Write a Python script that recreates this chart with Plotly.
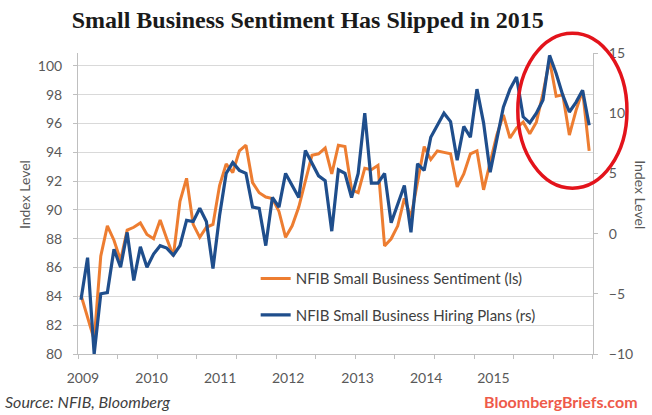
import plotly.graph_objects as go

# Monthly data, Jan 2009 - Jun 2015
sentiment = [84.1, 82.6, 81.0, 86.8, 88.9, 87.9, 86.5, 88.6, 88.8, 89.1, 88.3, 88.0,
             89.3, 88.0, 86.8, 90.6, 92.2, 89.0, 88.1, 88.8, 89.0, 91.7, 93.2, 92.6,
             94.1, 94.5, 91.9, 91.2, 90.9, 90.8, 89.9, 88.1, 88.9, 90.2, 92.0, 93.8,
             93.9, 94.3, 92.5, 94.5, 94.4, 91.4, 91.2, 92.9, 92.8, 93.1, 87.5, 88.0,
             88.9, 90.8, 89.5, 92.1, 94.4, 93.5, 94.1, 94.0, 93.9, 91.6, 92.5, 93.9,
             94.1, 91.4, 93.4, 95.2, 96.6, 95.0, 95.7, 96.1, 95.3, 96.1, 98.1, 100.4,
             97.9, 98.0, 95.2, 96.9, 98.3, 94.1]

hiring = [-5.5, -2.0, -10.0, -5.0, -4.9, -1.3, -2.8, 0.1, -3.9, -1.1, -2.8, -1.7,
          -1.0, -1.2, -1.8, -1.0, 1.1, 1.0, 2.1, 1.0, -2.9, 1.5, 5.0, 5.9,
          5.25, 5.0, 2.2, 2.1, -1.0, 3.0, 2.2, 5.0, 4.0, 3.0, 6.9, 5.8,
          4.8, 4.4, 0.2, 5.3, 5.0, 3.0, 5.0, 10.0, 4.2, 4.2, 5.0, 0.9,
          2.5, 4.0, 0.1, 5.8, 5.25, 8.0, 9.0, 10.0, 9.3, 6.1, 8.9, 8.0,
          12.0, 9.2, 5.1, 7.8, 10.5, 12.0, 13.0, 9.7, 9.2, 10.0, 11.1, 14.8,
          13.3, 11.5, 10.1, 10.9, 11.9, 9.0]

month_index = list(range(len(sentiment)))

year_labels = ["2009", "2010", "2011", "2012", "2013", "2014", "2015"]
year_label_pos = [0.3, 10.7, 21.1, 31.4, 41.9, 52.3, 62.5]

left_ticks = list(range(80, 101, 2))
right_ticks = [-10, -5, 0, 5, 10, 15]

FONT = "Lato, 'Liberation Sans', sans-serif"
TICK_FONT = dict(family=FONT, size=14, color="#595959")
AXIS_COLOR = "#BFBFBF"

fig = go.Figure()
fig.add_trace(go.Scatter(
    x=month_index, y=sentiment, mode="lines",
    name="NFIB Small Business Sentiment (ls)",
    line=dict(color="#ED7D31", width=3), yaxis="y",
    legendgroup="a"))
fig.add_trace(go.Scatter(
    x=month_index, y=hiring, mode="lines",
    name="NFIB Small Business Hiring Plans (rs)",
    line=dict(color="#1F4E8C", width=3.2), yaxis="y2",
    legendgroup="b"))

fig.update_layout(
    width=652, height=415,
    margin=dict(l=78, r=59, t=53, b=61),
    paper_bgcolor="white", plot_bgcolor="white",
    title=dict(
        text="<b>Small Business Sentiment Has Slipped in 2015</b>",
        font=dict(family="'Liberation Serif', 'DejaVu Serif', serif", size=24, color="#1a1a1a"),
        x=0.472, xref="container", xanchor="center",
        y=0.952, yref="container", yanchor="middle"),
    showlegend=True,
    legend=dict(
        x=0.345, y=0.305, xanchor="left", yanchor="top",
        bgcolor="rgba(0,0,0,0)", borderwidth=0,
        font=dict(family=FONT, size=15, color="#404040"),
        tracegroupgap=14, itemwidth=30),
    xaxis=dict(
        range=[-0.45, 77.58], tickmode="array",
        tickvals=year_label_pos, ticktext=year_labels,
        ticks="", showgrid=False, zeroline=False,
        showline=True, linecolor=AXIS_COLOR, linewidth=1,
        tickfont=TICK_FONT, ticklabelstandoff=11,
        minor=dict(ticks="outside", ticklen=4, tickcolor=AXIS_COLOR,
                   tick0=-0.45, dtick=6, showgrid=False)),
    yaxis=dict(
        range=[80, 100.9], tickmode="array", tickvals=left_ticks,
        showgrid=True, gridcolor="#D9D9D9", gridwidth=1, zeroline=False,
        showline=True, linecolor=AXIS_COLOR, linewidth=1,
        ticks="outside", ticklen=4, tickcolor=AXIS_COLOR,
        tickfont=TICK_FONT, ticklabelstandoff=8),
    yaxis2=dict(
        range=[-10, 15], tickmode="array", tickvals=right_ticks,
        overlaying="y", side="right",
        showgrid=False, zeroline=False,
        showline=True, linecolor=AXIS_COLOR, linewidth=1,
        ticks="outside", ticklen=4, tickcolor=AXIS_COLOR,
        tickfont=TICK_FONT, ticklabelstandoff=8),
    annotations=[
        dict(text="Index Level", xref="paper", yref="paper",
             x=-0.124, y=0.53, textangle=-90, showarrow=False,
             font=dict(family=FONT, size=14, color="#595959")),
        dict(text="Index Level", xref="paper", yref="paper",
             x=1.112, y=0.53, textangle=90, showarrow=False,
             font=dict(family=FONT, size=14, color="#595959")),
        dict(text="<i>Source: NFIB, Bloomberg</i>", xref="paper", yref="paper",
             x=-0.145, y=-0.159, xanchor="left", yanchor="middle", showarrow=False,
             font=dict(family=FONT, size=16, color="#404040")),
        dict(text="<b>BloombergBriefs.com</b>", xref="paper", yref="paper",
             x=1.092, y=-0.159, xanchor="right", yanchor="middle", showarrow=False,
             font=dict(family=FONT, size=16, color="#EE5A4A")),
    ],
    shapes=[
        dict(type="circle", xref="paper", yref="paper",
             x0=0.854, x1=1.066, y0=0.551, y1=1.066,
             line=dict(color="#E3131B", width=3.5), layer="above"),
    ],
)

fig.write_html("out.html")
